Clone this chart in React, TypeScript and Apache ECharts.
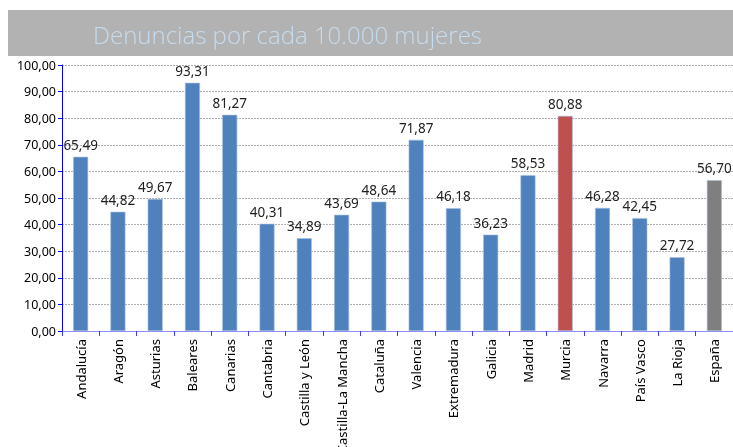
import React, { useEffect, useRef } from "react";
import * as echarts from "echarts";

const categories = ["Andalucía", "Aragón", "Asturias", "Baleares", "Canarias", "Cantabria", "Castilla y León", "Castilla-La Mancha", "Cataluña", "Valencia", "Extremadura", "Galicia", "Madrid", "Murcia", "Navarra", "País Vasco", "La Rioja", "España"];
const values = [65.49, 44.82, 49.67, 93.31, 81.27, 40.31, 34.89, 43.69, 48.64, 71.87, 46.18, 36.23, 58.53, 80.88, 46.28, 42.45, 27.72, 56.70];
const barColors = ["#4f81bd", "#4f81bd", "#4f81bd", "#4f81bd", "#4f81bd", "#4f81bd", "#4f81bd", "#4f81bd", "#4f81bd", "#4f81bd", "#4f81bd", "#4f81bd", "#4f81bd", "#c0504d", "#4f81bd", "#4f81bd", "#4f81bd", "#7f7f7f"];
const title = "Denuncias por cada 10.000 mujeres";

const fmt = (v: number) => v.toFixed(2).replace(".", ",");

export default function App() {
  const ref = useRef<HTMLDivElement>(null);
  useEffect(() => {
    const chart = echarts.init(ref.current!, null, { renderer: "svg" });
    chart.setOption({
      animation: false,
      textStyle: { fontFamily: "Noto Sans" },
      graphic: [
        { type: "rect", shape: { x: 8, y: 10, width: 725, height: 46 }, style: { fill: "#b2b2b2" } },
        { type: "text", x: 93, y: 34, style: { text: title, fill: "#c6dcef", font: "300 24px 'Open Sans'", textVerticalAlign: "middle" } },
      ],
      grid: { left: 62, right: 0, top: 65, bottom: 116, outerBoundsMode: "none", containLabel: false },
      xAxis: {
        type: "category",
        data: categories,
        axisLine: { lineStyle: { color: "#8c8cff", width: 1 } },
        axisTick: { show: true, lineStyle: { color: "#3a3aff" }, length: 5 },
        axisLabel: { rotate: 90, color: "#000", fontSize: 13, margin: 8, interval: 0 },
      },
      yAxis: {
        type: "value",
        min: 0,
        max: 100,
        interval: 10,
        axisLine: { show: true, lineStyle: { color: "#0000ff" } },
        axisTick: { show: true, lineStyle: { color: "#0000ff" }, length: 4 },
        axisLabel: { color: "#000", fontSize: 12.5, margin: 6, formatter: (v: number) => fmt(v) },
        splitLine: { lineStyle: { color: "#b0b0b0", type: [2, 1] } },
      },
      series: [
        {
          type: "bar",
          barWidth: 15,
          data: values.map((v, i) => ({ value: v, itemStyle: { color: barColors[i], borderColor: "#a8c0e0", borderWidth: 0.6 } })),
          label: { show: true, position: "top", distance: 5, color: "#222", fontSize: 13.5, formatter: (p: any) => fmt(p.value) },
        },
      ],
    });
    return () => chart.dispose();
  }, []);
  return <div ref={ref} style={{ position: "fixed", left: 0, top: 0, width: 733, height: 447 }} />;
}
